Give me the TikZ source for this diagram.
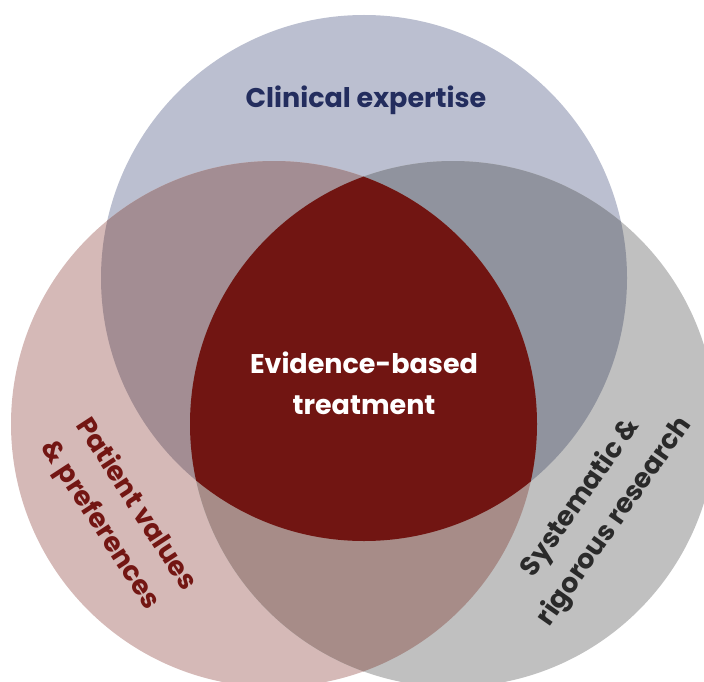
\documentclass[tikz,border=0pt]{standalone}
\usepackage{fontspec}
\setmainfont{Poppins}
\definecolor{clinical}{HTML}{BBBFD0}
\definecolor{patient}{HTML}{D5B9B7}
\definecolor{research}{HTML}{C0C0C0}
\definecolor{clinpat}{HTML}{A38D93}
\definecolor{clinres}{HTML}{90939E}
\definecolor{patres}{HTML}{A78C88}
\definecolor{core}{HTML}{711512}
\definecolor{navytext}{HTML}{232D5E}
\definecolor{redtext}{HTML}{731613}
\definecolor{greytext}{HTML}{2A2A2A}
\begin{document}
\begin{tikzpicture}[x=1pt,y=-1pt]

    \tikzset{
      label/.style={
        font=\bfseries\fontsize{27}{41}\selectfont,
        inner sep=0pt,
        align=center,
      },
    }
    \useasboundingbox (0,0) rectangle (704,682);
    \clip (0,0) rectangle (704,682);
    \def\rad{263}
    \coordinate (top) at (364,278);
    \coordinate (left) at (274,424);
    \coordinate (right) at (453,424);
	% single circles
	\fill[clinical] (top) circle (\rad);
	\fill[patient] (left) circle (\rad);
	\fill[research] (right) circle (\rad);
	% overlaps with the top circle
	\begin{scope}
	  \clip (top) circle (\rad);
	  \fill[clinpat] (left) circle (\rad);
	  \fill[clinres] (right) circle (\rad);
	\end{scope}
	% overlap of the lower circles, and the core
	\begin{scope}
	  \clip (left) circle (\rad);
	  \fill[patres] (right) circle (\rad);
	  \clip (top) circle (\rad);
	  \fill[core] (right) circle (\rad);
	\end{scope}
	\node[label,color=navytext] (clin) at (366,100) {Clinical expertise};
	\node[label,color=white] (ebt) at (364,383) {Evidence-based\\treatment};
	\node[label,color=redtext,align=left,rotate=-57] (pat) at (118,516) {Patient values\\\& preferences};
	\node[label,color=greytext,rotate=55] (res) at (598,510) {Systematic \&\\rigorous research};

\end{tikzpicture}
\end{document}
